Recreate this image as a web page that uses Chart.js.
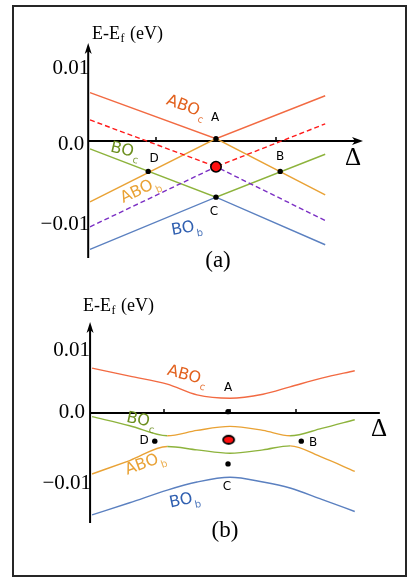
<!DOCTYPE html>
<html><head><meta charset="utf-8">
<script src="https://cdn.jsdelivr.net/npm/chart.js@4.4.1/dist/chart.umd.min.js"></script>
<style>
html,body{margin:0;padding:0;background:#fff;width:415px;height:578px;overflow:hidden}
canvas{position:absolute;left:0;top:0}
#frame{position:absolute;left:12px;top:5px;width:391px;height:568px;border:2px solid #262626}
</style></head><body>
<div id="frame"></div>
<canvas id="ca" width="415" height="578"></canvas>
<canvas id="cb" width="415" height="578"></canvas>
<script>
// ---------- Panel (a) data ----------
const aDelta      = [-2.1, 0, 1.82];
const aABOc       = [0.0062, 0.0003, 0.0058];
const aRedDash    = [0.0027, -0.0033, 0.0022];
const aABOb       = [-0.0078, 0.0003, -0.0069];
const aBOc        = [-0.001, -0.0072, -0.0017];
const aPurpleDash = [-0.011, -0.0033, -0.0102];
const aBOb        = [-0.0139, -0.0072, -0.0133];
const aDotX = [0, -1.13, 1.07, 0];
const aDotY = [0.0003, -0.0039, -0.0039, -0.0072];
const aCenterX = [0];
const aCenterY = [-0.0033];

// ---------- Panel (b) data ----------
const bDelta = [-2.09, -1.52, -0.95, -0.5, 0, 0.5, 0.91, 1.39, 1.89];
const bABOc  = [0.0067, 0.0055, 0.0043, 0.0027, 0.0022, 0.0028, 0.0039, 0.0052, 0.0063];
const bUpper = [-0.00055, -0.0019, -0.0034, -0.0026, -0.002, -0.0026, -0.0034, -0.0023, -0.001];
const bLower = [-0.0091, -0.0071, -0.005, -0.0055, -0.006, -0.0055, -0.0049, -0.0066, -0.0087];
const bBOb   = [-0.0152, -0.0134, -0.0115, -0.0103, -0.0096, -0.0103, -0.0112, -0.0129, -0.0147];
const bDotX = [-0.03, -1.14, 1.08, -0.03];
const bDotY = [0.0002, -0.0042, -0.0042, -0.0076];
const bCenterX = [-0.02];
const bCenterY = [-0.004];

const yTicks = [0.01, 0.0, -0.01];
const yTickLabels = ['0.01', '0.0', '\u22120.01'];
const xTicks = [-1, 0, 1];

const C = {
  ABOc:'#f26a42', ABOcTxt:'#e2611e',
  ABOb:'#e9a235', ABObTxt:'#e9a235',
  BOc:'#8db33c', BOcTxt:'#6c8f1f',
  BOb:'#5b80c0', BObTxt:'#2f5fb0',
  red:'#ff1a1a', purple:'#7b2fc4'
};

const pts = (xs, ys) => xs.map((x, i) => ({x, y: ys[i]}));

function lineDs(xs, ys, color, dash) {
  return {data: pts(xs, ys), borderColor: color, borderWidth: 1.4, borderDash: dash || [],
          pointRadius: 0, fill: false, tension: 0, order: 2};
}
function dotDs(xs, ys) {
  return {data: pts(xs, ys), showLine: false, pointRadius: 2.7, pointBackgroundColor: '#000',
          pointBorderColor: '#000', pointBorderWidth: 0, order: 0};
}

// ellipse point image for panel (b)
function ellipseImg(w, h) {
  const c = document.createElement('canvas');
  c.width = w + 4; c.height = h + 4;
  const g = c.getContext('2d');
  g.beginPath(); g.ellipse(c.width/2, c.height/2, w/2, h/2, 0, 0, Math.PI*2);
  g.fillStyle = '#ff1010'; g.fill(); g.lineWidth = 1.8; g.strokeStyle = '#000'; g.stroke();
  return c;
}

function drawArrowUp(ctx, x, y) {
  ctx.beginPath(); ctx.moveTo(x, y); ctx.lineTo(x-3.5, y+11); ctx.lineTo(x, y+8); ctx.lineTo(x+3.5, y+11); ctx.closePath(); ctx.fill();
}
function drawArrowRight(ctx, x, y) {
  ctx.beginPath(); ctx.moveTo(x, y); ctx.lineTo(x-11, y-4); ctx.lineTo(x-8, y); ctx.lineTo(x-11, y+4); ctx.closePath(); ctx.fill();
}

function label(ctx, main, sub, x, y, ang, col, size) {
  ctx.save();
  ctx.translate(x, y); ctx.rotate(ang * Math.PI / 180);
  ctx.font = size + 'px "DejaVu Sans"';
  const w = ctx.measureText(main).width;
  ctx.fillStyle = col; ctx.textBaseline = 'middle'; ctx.textAlign = 'left';
  ctx.fillText(main, -w/2, 0);
  ctx.font = Math.round(size*0.6) + 'px "DejaVu Sans"';
  ctx.globalAlpha = 0.85;
  ctx.fillText(sub, w/2 + 1, size*0.45);
  ctx.restore();
}
function plain(ctx, t, x, y, font, col, align) {
  ctx.save(); ctx.font = font; ctx.fillStyle = col || '#000';
  ctx.textAlign = align || 'center'; ctx.textBaseline = 'middle';
  ctx.fillText(t, x, y); ctx.restore();
}
function title(ctx, x, base) {
  ctx.save(); ctx.fillStyle = '#000'; ctx.textBaseline = 'alphabetic'; ctx.textAlign = 'left';
  ctx.font = '18px "Liberation Serif"';
  ctx.fillText('E-E', x, base);
  let w = ctx.measureText('E-E').width;
  ctx.font = '12px "Liberation Serif"';
  ctx.fillText('f', x + w + 0.5, base + 3);
  let w2 = ctx.measureText('f').width;
  ctx.font = '18px "Liberation Serif"';
  ctx.fillText(' (eV)', x + w + w2 + 1.5, base);
  ctx.restore();
}

function axesPlugin(cfg) {
  return {
    id: 'axes' + cfg.name,
    beforeDatasetsDraw(chart) {
      const ctx = chart.ctx, xs = chart.scales.x, ys = chart.scales.y;
      const ax = xs.getPixelForValue(cfg.axisX), y0 = ys.getPixelForValue(0);
      const yTop = ys.getPixelForValue(cfg.yTop), yBot = ys.getPixelForValue(cfg.yBot);
      const xEnd = xs.getPixelForValue(cfg.xEnd);
      ctx.save();
      ctx.strokeStyle = '#000'; ctx.fillStyle = '#000'; ctx.lineWidth = 2;
      ctx.beginPath(); ctx.moveTo(ax, yBot); ctx.lineTo(ax, yTop + 4); ctx.stroke();
      drawArrowUp(ctx, ax, yTop);
      ctx.beginPath(); ctx.moveTo(ax, y0); ctx.lineTo(cfg.xArrow ? xEnd - 4 : xEnd, y0); ctx.stroke();
      if (cfg.xArrow) drawArrowRight(ctx, xEnd, y0);
      ctx.lineWidth = 1.5;
      xTicks.forEach(t => { const px = xs.getPixelForValue(t);
        ctx.beginPath(); ctx.moveTo(px, y0); ctx.lineTo(px, y0 - 4); ctx.stroke(); });
      ctx.restore();
    },
    afterDatasetsDraw(chart) {
      const ctx = chart.ctx, xs = chart.scales.x, ys = chart.scales.y;
      const ax = xs.getPixelForValue(cfg.axisX);
      yTicks.forEach((t, i) => {
        const py = ys.getPixelForValue(t) + cfg.tickOff[i];
        plain(ctx, yTickLabels[i], ax + cfg.tickDx[i], py, '21px "Liberation Serif"', '#000', 'right');
      });
      cfg.texts(ctx);
    }
  };
}

function makeChart(id, datasets, sc, plugin) {
  return new Chart(document.getElementById(id), {
    type: 'line',
    data: {datasets},
    options: {
      responsive: false, animation: false, devicePixelRatio: 1,
      layout: {padding: 0, autoPadding: false},
      plugins: {legend: {display: false}, tooltip: {enabled: false}},
      scales: {
        x: {type: 'linear', display: false, min: sc.xmin, max: sc.xmax},
        y: {type: 'linear', display: false, min: sc.ymin, max: sc.ymax}
      }
    },
    plugins: [plugin]
  });
}

// ---- Panel (a) ----
makeChart('ca', [
  lineDs(aDelta, aRedDash, C.red, [5, 3]),
  lineDs(aDelta, aPurpleDash, C.purple, [5, 3]),
  lineDs(aDelta, aABOc, C.ABOc),
  lineDs(aDelta, aABOb, C.ABOb),
  lineDs(aDelta, aBOc, C.BOc),
  lineDs(aDelta, aBOb, C.BOb),
  dotDs(aDotX, aDotY),
  {data: pts(aCenterX, aCenterY), showLine: false, pointRadius: 5.2, pointBackgroundColor: '#ff1010',
   pointBorderColor: '#000', pointBorderWidth: 1.6, order: 0}
], {xmin: -216/60, xmax: (415-216)/60, ymin: -(578-141)/7800, ymax: 141/7800},
axesPlugin({name: 'a', axisX: -2.13, yTop: 0.01256, yBot: -0.015, xEnd: 2.45, xArrow: true,
  tickOff: [5, 3, 5], tickDx: [1, -4, 1],
  texts(ctx) {
    title(ctx, 92, 39);
    plain(ctx, '\u0394', 353, 158, '25px "Liberation Serif"');
    label(ctx, 'ABO', 'c', 183, 106, 20, C.ABOcTxt, 16);
    label(ctx, 'BO', 'c', 122, 150, 13, C.BOcTxt, 16);
    label(ctx, 'ABO', 'b', 137, 192, -25, C.ABObTxt, 16);
    label(ctx, 'BO', 'b', 183, 229, -10, C.BObTxt, 16);
    const f = '12px "DejaVu Sans"';
    plain(ctx, 'A', 215, 118, f); plain(ctx, 'D', 154, 159, f);
    plain(ctx, 'B', 280, 157, f); plain(ctx, 'C', 214, 212, f);
    plain(ctx, '(a)', 218, 261, '23px "Liberation Serif"');
  }}));

// ---- Panel (b) ----
const splitL = -0.95, splitR = 0.91;
const inMid = c => c.p0.parsed.x >= splitL - 1e-9 && c.p1.parsed.x <= splitR + 1e-9;
function curveDs(ys, color) {
  return {data: pts(bDelta, ys), borderColor: color, borderWidth: 1.4, pointRadius: 0, fill: false,
          cubicInterpolationMode: 'monotone', order: 2};
}
const upper = curveDs(bUpper, C.BOc);
upper.segment = {borderColor: c => inMid(c) ? C.ABOb : C.BOc};
const lower = curveDs(bLower, C.ABOb);
lower.segment = {borderColor: c => inMid(c) ? C.BOc : C.ABOb};

makeChart('cb', [
  curveDs(bABOc, C.ABOc),
  upper, lower,
  curveDs(bBOb, C.BOb),
  dotDs(bDotX, bDotY),
  {data: pts(bCenterX, bCenterY), showLine: false, pointStyle: ellipseImg(11, 8), order: 0}
], {xmin: -230/66, xmax: (415-230)/66, ymin: -(578-413)/6700, ymax: 413/6700},
axesPlugin({name: 'b', axisX: -2.12, yTop: 0.01358, yBot: -0.01642, xEnd: 2.27, xArrow: false,
  tickOff: [4, -1, 3], tickDx: [0, -5, 1],
  texts(ctx) {
    title(ctx, 83, 311);
    plain(ctx, '\u0394', 379, 429, '25px "Liberation Serif"');
    label(ctx, 'ABO', 'c', 184, 375, 15, C.ABOcTxt, 16);
    label(ctx, 'BO', 'c', 138, 420, 12, C.BOcTxt, 16);
    label(ctx, 'ABO', 'b', 142, 465, -20, C.ABObTxt, 16);
    label(ctx, 'BO', 'b', 181, 501, -12, C.BObTxt, 16);
    const f = '12px "DejaVu Sans"';
    plain(ctx, 'A', 228, 388, f); plain(ctx, 'D', 144, 441, f);
    plain(ctx, 'B', 313, 443, f); plain(ctx, 'C', 227, 487, f);
    plain(ctx, '(b)', 225, 531, '23px "Liberation Serif"');
  }}));
</script>
</body></html>
